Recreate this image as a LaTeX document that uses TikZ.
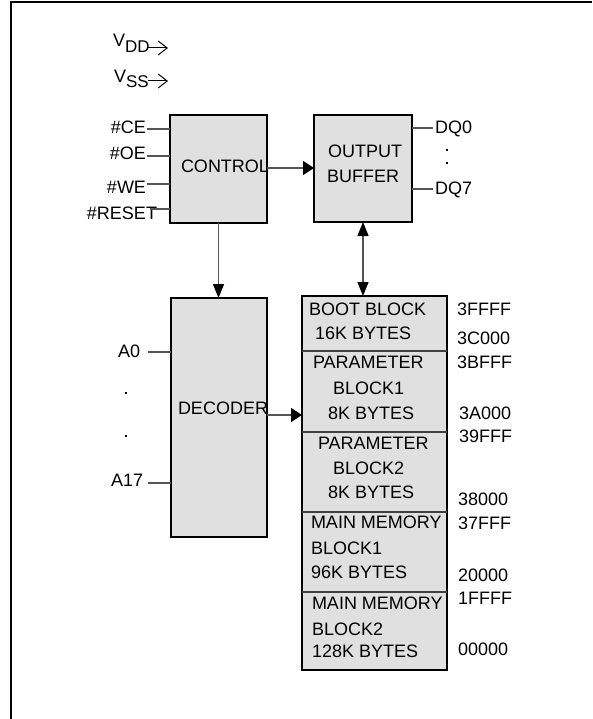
\documentclass[tikz,border=0pt]{standalone}
\usepackage{fontspec}
\setmainfont{Liberation Sans}
\usetikzlibrary{arrows.meta}
\definecolor{boxgray}{RGB}{224,224,224}
\definecolor{wiregray}{RGB}{85,85,85}
\tikzset{
  blk/.style={draw=black, line width=2pt, fill=boxgray, rectangle, inner sep=0pt, outer sep=0pt},
  txt/.style={inner sep=0pt, outer sep=0pt, font=\fontsize{18}{20}\selectfont, anchor=base west},
  rtxt/.style={txt, anchor=base east},
  wire/.style={draw=wiregray, line width=1.3pt},
  divider/.style={draw=black!75, line width=1.3pt},
  harr/.style={wire, -{Triangle[length=11pt,width=14pt,color=black]}},
  varr/.style={wire, -{Triangle[length=14pt,width=11pt,color=black]}},
  vbiarr/.style={wire, {Triangle[length=14pt,width=11pt,color=black]}-{Triangle[length=14pt,width=11pt,color=black]}},
  supply/.style={draw=black, line width=1pt, -{Straight Barb[length=9pt,width=14pt]}},
  ellip/.style={fill=black, rectangle, inner sep=0pt, outer sep=0pt, minimum size=2.5pt},
}
\begin{document}
\begin{tikzpicture}[x=1pt,y=-1pt]
\useasboundingbox (0,0) rectangle (592,719);
% frame
\draw[line width=2pt] (11,719) -- (11,2) -- (592,2);

% supplies
\node[txt] (vdd) at (113,47) {V\raisebox{-6pt}{\fontsize{17}{17}\selectfont DD}};
\coordinate (vddA) at (148,48);
\coordinate (vddB) at (168,48);
\draw[supply] (vddA) -- (vddB);
\node[txt] (vss) at (114,83) {V\raisebox{-5pt}{\fontsize{17}{17}\selectfont SS}};
\coordinate (vssA) at (148,81);
\coordinate (vssB) at (168,81);
\draw[supply] (vssA) -- (vssB);

% boxes
\node[blk, minimum width=97pt, minimum height=107pt] (ctrl) at (218.5,169) {};
\node[blk, minimum width=98pt, minimum height=107pt] (out) at (363,168.5) {};
\node[blk, minimum width=96pt, minimum height=239pt] (dec) at (219,417.5) {};
\node[blk, minimum width=145pt, minimum height=374pt] (mem) at (374.5,483) {};

% box texts
\node[txt] (tctrl) at (181,172.5) {CONTROL};
\node[txt] (tout1) at (328,158) {OUTPUT};
\node[txt] (tout2) at (327,182.5) {BUFFER};
\node[txt] (tdec) at (178,414.5) {DECODER};

% control inputs
\node[rtxt] (ce) at (146,133.5) {\#CE};
\node[rtxt] (oe) at (146,159.5) {\#OE};
\node[rtxt] (we) at (146,193.5) {\#WE};
\node[rtxt] (rst) at (157,219.5) {\#RESET};
\coordinate (ceL) at (147,129);
\coordinate (oeL) at (147,156);
\coordinate (weL) at (147,184);
\coordinate (rstL) at (150,209);
\draw[wire] (ceL) -- (ceL -| ctrl.west);
\draw[wire] (oeL) -- (oeL -| ctrl.west);
\draw[wire] (weL) -- (weL -| ctrl.west);
\draw[wire] (rstL) -- (rstL -| ctrl.west);

% outputs
\coordinate (dq0R) at (433,128);
\coordinate (dq7R) at (433,189);
\draw[wire] (dq0R -| out.east) -- (dq0R);
\draw[wire] (dq7R -| out.east) -- (dq7R);
\node[txt] (dq0) at (435,133.5) {DQ0};
\node[txt] (dq7) at (435,194.5) {DQ7};
\node[ellip] (dqd1) at (447,150) {};
\node[ellip] (dqd2) at (447,163) {};

% address inputs
\node[txt] (a0) at (118,357.5) {A0};
\node[txt] (a17) at (111,486.5) {A17};
\node[ellip] (ad1) at (126,393) {};
\node[ellip] (ad2) at (126,436) {};
\coordinate (a0L) at (148,352);
\coordinate (a17L) at (148,483);
\draw[wire] (a0L) -- (a0L -| dec.west);
\draw[wire] (a17L) -- (a17L -| dec.west);

% connectors
\coordinate (cy) at (0,168);
\draw[harr] (ctrl.east |- cy) -- (out.west |- cy);
\draw[varr] (ctrl.south) -- (ctrl.south |- dec.north);
\draw[vbiarr] (out.south) -- (out.south |- mem.north);
\coordinate (dy) at (0,415);
\draw[harr] (dec.east |- dy) -- (mem.west |- dy);

% memory dividers
\foreach \yy in {351,432,512,592} {
  \draw[divider] (mem.west |- 0,\yy) -- (mem.east |- 0,\yy);
}

% memory texts
\node[txt] (m1) at (309,315.5) {BOOT BLOCK};
\node[txt] (m2) at (315,339.5) {16K BYTES};
\node[txt] (m3) at (313,368.5) {PARAMETER};
\node[txt] (m4) at (333,394.5) {BLOCK1};
\node[txt] (m5) at (328,419.5) {8K BYTES};
\node[txt] (m6) at (318,449.5) {PARAMETER};
\node[txt] (m7) at (333,474.5) {BLOCK2};
\node[txt] (m8) at (328,498.5) {8K BYTES};
\node[txt] (m9) at (311,528.5) {MAIN MEMORY};
\node[txt] (m10) at (311,554.5) {BLOCK1};
\node[txt] (m11) at (311,578.5) {96K BYTES};
\node[txt] (m12) at (312,609.5) {MAIN MEMORY};
\node[txt] (m13) at (312,635.5) {BLOCK2};
\node[txt] (m14) at (312,657.5) {128K BYTES};

% addresses
\node[txt] (ad3FFFF) at (457,315.5) {3FFFF};
\node[txt] (ad3C000) at (457,344.5) {3C000};
\node[txt] (ad3BFFF) at (457,368.5) {3BFFF};
\node[txt] (ad3A000) at (459,419.5) {3A000};
\node[txt] (ad39FFF) at (459,442.5) {39FFF};
\node[txt] (ad38000) at (458,505.5) {38000};
\node[txt] (ad37FFF) at (458,529.5) {37FFF};
\node[txt] (ad20000) at (458,581.5) {20000};
\node[txt] (ad1FFFF) at (458,604.5) {1FFFF};
\node[txt] (ad00000) at (458,655.5) {00000};
\end{tikzpicture}
\end{document}
